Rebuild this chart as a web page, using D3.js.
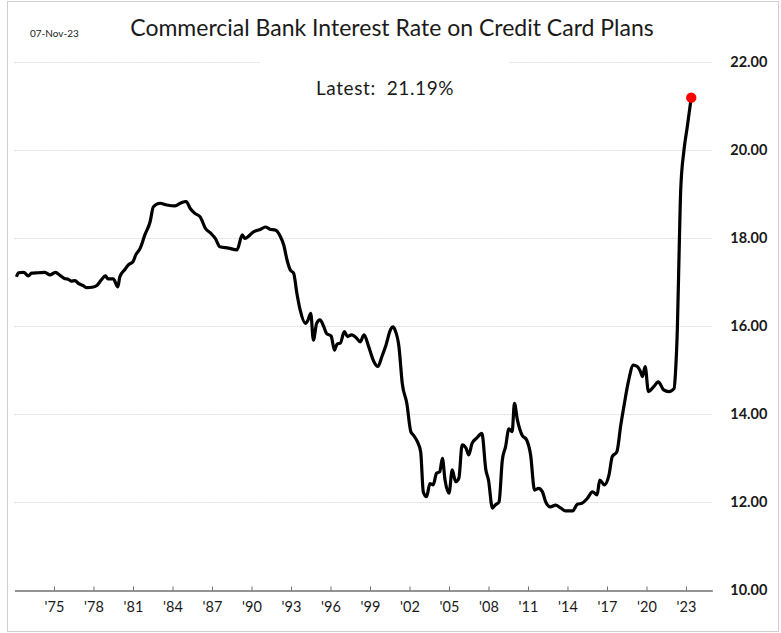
<!DOCTYPE html>
<html>
<head>
<meta charset="utf-8">
<script src="https://cdn.jsdelivr.net/npm/d3@7"></script>
<style>
  html, body { margin: 0; padding: 0; background: #fff; }
  svg { display: block; }
  text { font-family: Lato, "Noto Sans", sans-serif; fill: #1a1a1a; }
</style>
</head>
<body>
<svg id="chart" width="781" height="633"></svg>
<script>
// Credit card plan rate, commercial banks (%), by period (decimal year)
const periods = [
  1972.15, 1972.3, 1972.7, 1973.05, 1973.3, 1973.8, 1974.3, 1974.7, 1975.1, 1975.5,
  1975.8, 1976.1, 1976.3, 1976.6, 1976.85, 1977.2, 1977.5, 1977.9, 1978.25, 1978.6,
  1978.9, 1979.1, 1979.5, 1979.85, 1980.0, 1980.4, 1980.65, 1981.0, 1981.2, 1981.55,
  1981.9, 1982.3, 1982.55, 1983.05, 1983.57, 1984.2, 1984.6, 1985.04, 1985.35, 1985.7,
  1986.1, 1986.5, 1986.9, 1987.25, 1987.6, 1988.25, 1988.9, 1989.3, 1989.5, 1990.15,
  1990.7, 1991.05, 1991.4, 1991.8, 1992.2, 1992.45, 1992.7, 1992.95, 1993.2, 1993.45,
  1993.7, 1994.1, 1994.3, 1994.5, 1994.7, 1994.95, 1995.2, 1995.5, 1995.7, 1996.05,
  1996.3, 1996.5, 1996.75, 1997.05, 1997.3, 1997.6, 1998.0, 1998.25, 1998.55, 1998.9,
  1999.3, 1999.6, 1999.9, 2000.2, 2000.55, 2000.75, 2000.9, 2001.2, 2001.45, 2001.8,
  2002.1, 2002.3, 2002.6, 2002.85, 2003.05, 2003.3, 2003.55, 2003.8, 2004.05, 2004.3,
  2004.5, 2004.7, 2005.0, 2005.25, 2005.5, 2005.75, 2006.0, 2006.3, 2006.5, 2006.75,
  2007.1, 2007.5, 2007.8, 2008.0, 2008.3, 2008.5, 2008.8, 2009.05, 2009.3, 2009.55,
  2009.8, 2009.97, 2010.2, 2010.55, 2010.9, 2011.2, 2011.5, 2011.8, 2012.1, 2012.35,
  2012.7, 2013.1, 2013.5, 2013.85, 2014.4, 2014.75, 2015.1, 2015.5, 2015.9, 2016.25,
  2016.45, 2016.8, 2017.15, 2017.4, 2017.75, 2018.05, 2018.3, 2018.65, 2019.0, 2019.3,
  2019.55, 2019.7, 2019.9, 2020.15, 2020.55, 2020.9, 2021.3, 2021.7, 2022.1, 2022.2,
  2022.35, 2022.5, 2022.6, 2022.85, 2023.1, 2023.4
];
const rates = [
  17.12, 17.21, 17.22, 17.14, 17.20, 17.21, 17.22, 17.16, 17.22, 17.14,
  17.08, 17.06, 17.02, 17.03, 16.97, 16.92, 16.87, 16.88, 16.92, 17.05,
  17.14, 17.07, 17.07, 16.89, 17.12, 17.29, 17.39, 17.46, 17.61, 17.77,
  18.07, 18.37, 18.71, 18.79, 18.75, 18.73, 18.79, 18.83, 18.67, 18.56,
  18.48, 18.22, 18.11, 17.99, 17.80, 17.77, 17.73, 18.07, 17.99, 18.14,
  18.20, 18.25, 18.20, 18.18, 18.03, 17.84, 17.50, 17.27, 17.20, 16.74,
  16.36, 16.06, 16.14, 16.29, 15.68, 16.06, 16.14, 15.98, 15.83, 15.77,
  15.45, 15.59, 15.61, 15.87, 15.76, 15.80, 15.72, 15.64, 15.80, 15.53,
  15.19, 15.08, 15.30, 15.55, 15.91, 15.98, 15.91, 15.53, 14.70, 14.24,
  13.60, 13.52, 13.37, 13.14, 12.23, 12.12, 12.42, 12.39, 12.65, 12.69,
  12.99, 12.50, 12.20, 12.73, 12.46, 12.54, 13.30, 13.22, 13.07, 13.33,
  13.45, 13.56, 12.73, 12.50, 11.86, 11.93, 12.00, 12.95, 13.26, 13.66,
  13.60, 14.24, 13.86, 13.52, 13.41, 13.07, 12.27, 12.31, 12.23, 12.00,
  11.89, 11.93, 11.86, 11.80, 11.80, 11.95, 11.97, 12.08, 12.23, 12.16,
  12.50, 12.39, 12.61, 13.03, 13.14, 13.75, 14.20, 14.77, 15.11, 15.08,
  14.96, 14.85, 15.08, 14.51, 14.62, 14.73, 14.55, 14.51, 14.58, 14.92,
  15.98, 17.95, 19.09, 20.00, 20.53, 21.19
];

// Axis ticks
const xTickYears = [1975, 1978, 1981, 1984, 1987, 1990, 1993, 1996, 1999, 2002, 2005, 2008, 2011, 2014, 2017, 2020, 2023];
const yTickValues = [10, 12, 14, 16, 18, 20, 22];

const titleText = "Commercial Bank Interest Rate on Credit Card Plans";
const dateStamp = "07-Nov-23";
const latestLabel = "Latest:  21.19%";

const data = periods.map((p, i) => ({ t: p, v: rates[i] }));

const svg = d3.select("#chart");
const W = 781, H = 633;

// outer frame
svg.append("rect")
  .attr("x", 7.5).attr("y", 1.5)
  .attr("width", W - 10).attr("height", H - 3)
  .attr("fill", "#fff")
  .attr("stroke", "#cfcfcf")
  .attr("stroke-width", 1);

const x = d3.scaleLinear().domain([1972, 2025]).range([14.5, 712.3]);
const y = d3.scaleLinear().domain([10, 22]).range([590, 62]);

// horizontal gridlines
const grid = svg.append("g").attr("class", "grid");
grid.selectAll("line")
  .data(yTickValues.filter(v => v > 10))
  .join("line")
  .attr("x1", x.range()[0]).attr("x2", x.range()[1])
  .attr("y1", d => Math.round(y(d)) + 0.5).attr("y2", d => Math.round(y(d)) + 0.5)
  .attr("stroke", "#dcdcdc")
  .attr("stroke-width", 1)
  .attr("stroke-dasharray", "2,1");

// text box for the latest reading (white fill hides the gridline beneath)
svg.append("rect")
  .attr("x", 260).attr("y", 55)
  .attr("width", 250).attr("height", 55)
  .attr("fill", "#fff");

svg.append("text")
  .attr("x", 385).attr("y", 95)
  .attr("text-anchor", "middle")
  .attr("font-size", 19)
  .attr("letter-spacing", 0.6)
  .style("white-space", "pre")
  .text(latestLabel);

// title and date stamp
svg.append("text")
  .attr("x", 392).attr("y", 36)
  .attr("text-anchor", "middle")
  .attr("font-size", 23)
  .text(titleText);

svg.append("text")
  .attr("x", 30).attr("y", 37)
  .attr("font-size", 10)
  .text(dateStamp);

// x axis along the bottom
const xAxis = d3.axisBottom(x)
  .tickValues(xTickYears)
  .tickSize(0)
  .tickPadding(11)
  .tickFormat(d => "'" + String(d).slice(2));

const gx = svg.append("g")
  .attr("transform", `translate(0,${y(10) + 0.5})`)
  .call(xAxis);
gx.select(".domain").attr("stroke", "#6f6f6f").attr("stroke-width", 1.4);
gx.selectAll(".tick line").remove();
gx.selectAll(".tick").append("line")
  .attr("y1", -4).attr("y2", 0)
  .attr("stroke", "#6f6f6f");
gx.selectAll(".tick text")
  .attr("font-family", "Lato, sans-serif")
  .attr("font-size", 14.5)
  .attr("fill", "#1a1a1a");

// y axis labels on the right
const yAxis = d3.axisRight(y)
  .tickValues(yTickValues)
  .tickSize(0)
  .tickPadding(18)
  .tickFormat(d => d.toFixed(2));
const gy = svg.append("g")
  .attr("transform", `translate(${x.range()[1]},0)`)
  .call(yAxis);
gy.select(".domain").remove();
gy.selectAll(".tick text")
  .attr("font-family", "Lato, sans-serif")
  .attr("font-size", 14.5)
  .attr("font-weight", "bold")
  .attr("fill", "#1a1a1a");

// the rate line
const line = d3.line()
  .x(d => x(d.t))
  .y(d => y(d.v))
  .curve(d3.curveMonotoneX);

svg.append("path")
  .datum(data)
  .attr("fill", "none")
  .attr("stroke", "#000")
  .attr("stroke-width", 3.2)
  .attr("stroke-linejoin", "round")
  .attr("d", line);

// marker on the latest value
const last = data[data.length - 1];
svg.append("circle")
  .attr("cx", x(last.t)).attr("cy", y(last.v))
  .attr("r", 5.2)
  .attr("fill", "#ff0000");
</script>
</body>
</html>
